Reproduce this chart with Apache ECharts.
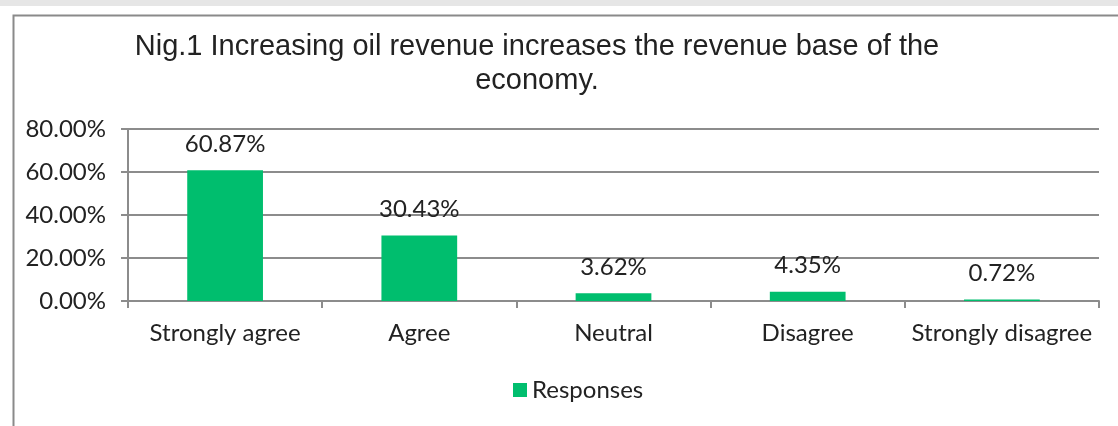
<!DOCTYPE html>
<html>
<head>
<meta charset="utf-8">
<style>
  html, body { margin: 0; padding: 0; background: #ffffff; }
  #chart { width: 1118px; height: 426px; }
</style>
<script src="https://cdn.jsdelivr.net/npm/echarts@6/dist/echarts.min.js"></script>
</head>
<body>
<div id="chart"></div>
<script>
// Survey answers and their share of responses (percent)
const categories = ['Strongly agree', 'Agree', 'Neutral', 'Disagree', 'Strongly disagree'];
const responses = [60.87, 30.43, 3.62, 4.35, 0.72];
const seriesName = 'Responses';
const titleText = 'Nig.1 Increasing oil revenue increases the revenue base of the\neconomy.';

const axisGray = '#8c8c8c';
const textColor = '#222222';
const labelFont = 'Lato, "Open Sans", sans-serif';
const labelSize = 24;

const chart = echarts.init(document.getElementById('chart'), null, { renderer: 'canvas' });

chart.setOption({
  backgroundColor: '#ffffff',
  animation: false,
  graphic: [
    // light strip along the top edge
    { type: 'rect', left: 0, top: 0, shape: { width: 1118, height: 6 }, style: { fill: '#e6e6e6' }, silent: true },
    // chart frame running off the right and bottom edges
    { type: 'rect', left: 11, top: 13, shape: { width: 1200, height: 500 },
      style: { fill: 'none', stroke: '#8a8a8a', lineWidth: 2 }, silent: true, z: -1 }
  ],
  title: {
    text: titleText,
    left: 532,
    top: 25,
    textAlign: 'center',
    textStyle: {
      fontFamily: '"Liberation Sans", Arial, sans-serif',
      fontSize: 29,
      fontWeight: 'normal',
      color: textColor,
      lineHeight: 34
    }
  },
  legend: {
    data: [seriesName],
    left: 508,
    top: 373,
    icon: 'rect',
    itemWidth: 14,
    itemHeight: 14,
    textStyle: { fontFamily: labelFont, fontSize: labelSize, color: textColor, lineHeight: 24 }
  },
  grid: { left: 128, right: 19, top: 129, bottom: 125, containLabel: false },
  xAxis: {
    type: 'category',
    data: categories,
    axisLine: { show: true, lineStyle: { color: axisGray, width: 2 } },
    axisTick: { show: true, length: 7, interval: 0, lineStyle: { color: axisGray, width: 2 } },
    axisLabel: { interval: 0, margin: 20, fontFamily: labelFont, fontSize: labelSize, color: textColor, lineHeight: 24 }
  },
  yAxis: {
    type: 'value',
    min: 0,
    max: 80,
    interval: 20,
    axisLine: { show: true, lineStyle: { color: axisGray, width: 2 } },
    axisTick: { show: true, length: 7, lineStyle: { color: axisGray, width: 2 } },
    splitLine: { show: true, lineStyle: { color: axisGray, width: 2 } },
    axisLabel: {
      margin: 22,
      fontFamily: labelFont,
      fontSize: labelSize,
      color: textColor,
      formatter: v => v.toFixed(2) + '%'
    }
  },
  series: [{
    name: seriesName,
    type: 'bar',
    data: responses,
    barWidth: '39%',
    itemStyle: { color: '#00BE6E' },
    label: {
      show: true,
      position: 'top',
      distance: 14,
      fontFamily: labelFont,
      fontSize: labelSize,
      lineHeight: 24,
      color: textColor,
      formatter: p => p.value.toFixed(2) + '%'
    }
  }]
});
</script>
</body>
</html>
